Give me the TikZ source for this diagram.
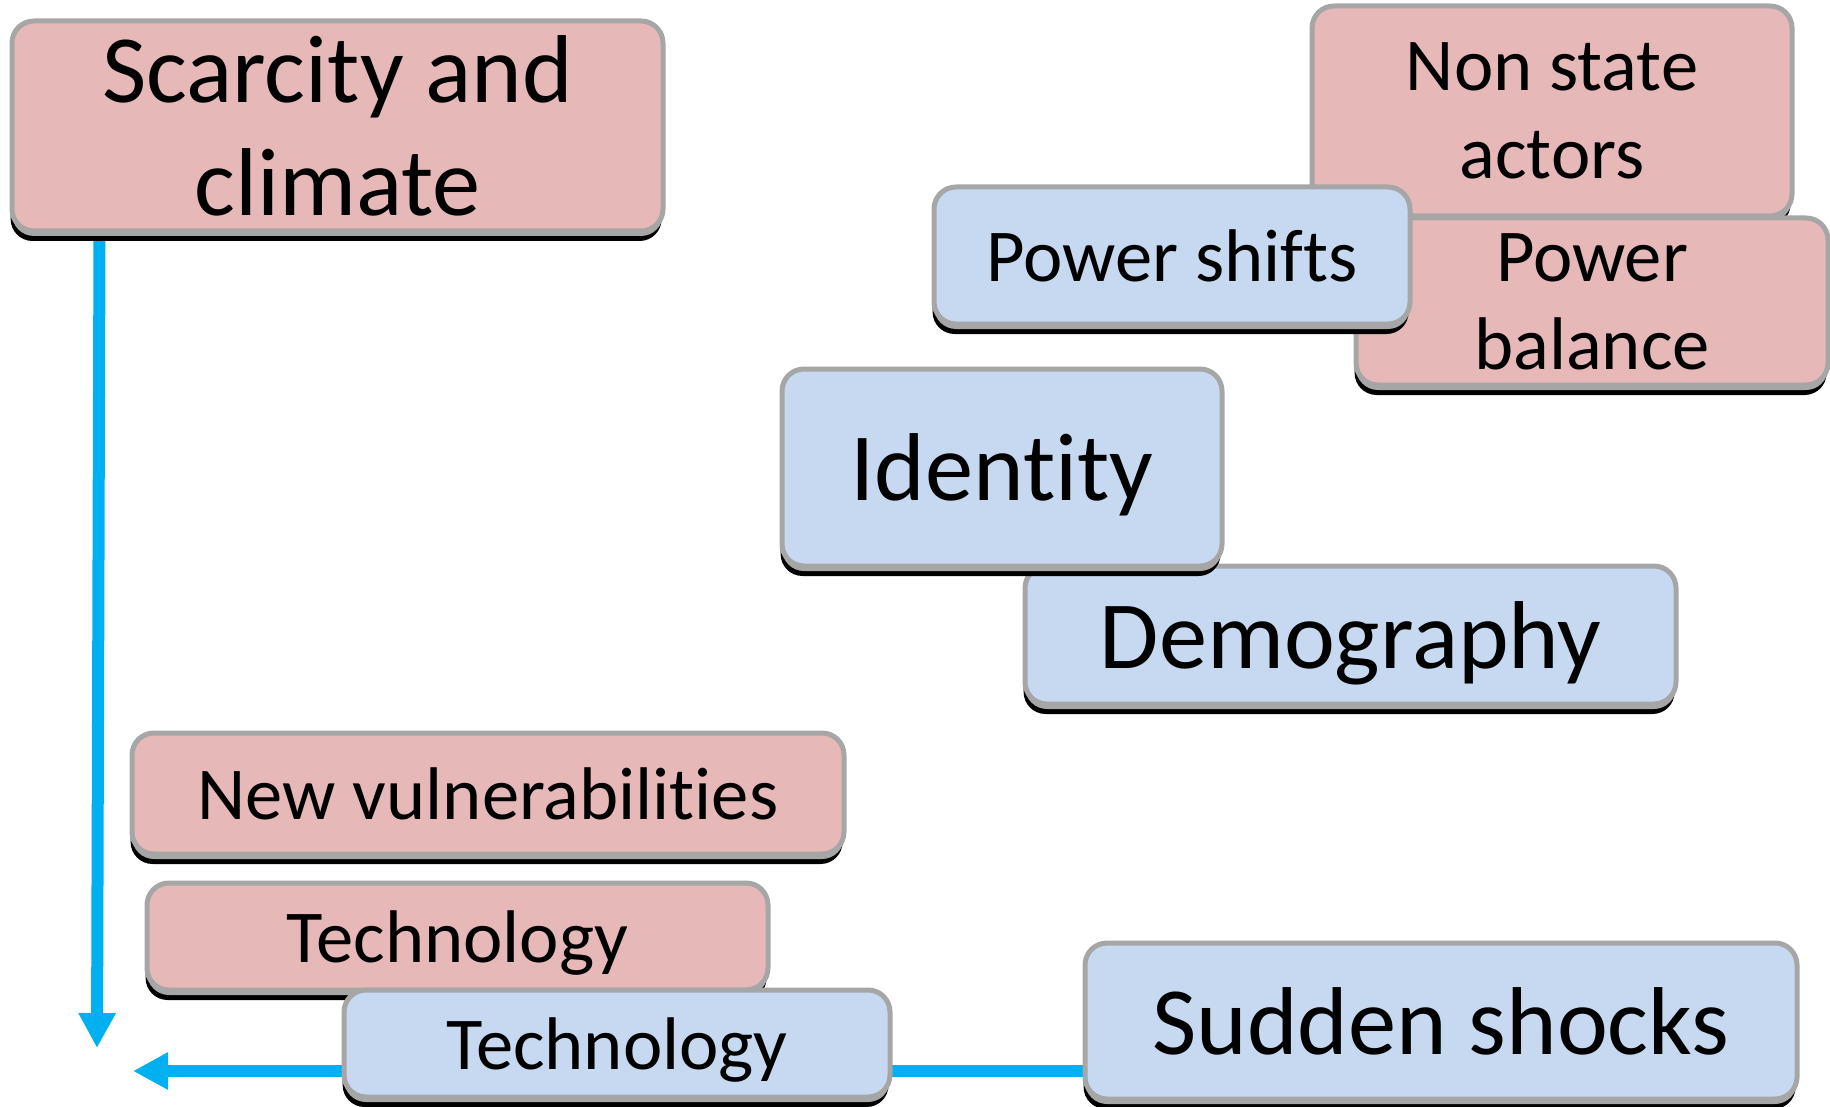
\documentclass[tikz,border=0pt]{standalone}
\usepackage{fontspec}
\setmainfont{Carlito}[Ligatures=NoCommon]
\usetikzlibrary{arrows.meta,shadows,backgrounds}
\definecolor{boxred}{HTML}{E6B9B8}
\definecolor{boxblue}{HTML}{C6D9F1}
\definecolor{boxedge}{HTML}{A6A6A6}
\definecolor{arrowblue}{HTML}{00B0F0}

\begin{document}
\begin{tikzpicture}[x=0.5pt,y=-0.5pt,
    box/.style={draw=boxedge, line width=2.5pt, rounded corners=11pt, align=center, inner sep=0pt,
        general shadow={fill=black, shadow xshift=-0.7pt, shadow yshift=-5pt},
        general shadow={fill=boxedge, shadow yshift=-2.5pt}},
    redbox/.style={box, fill=boxred},
    bluebox/.style={box, fill=boxblue},
    oneline/.style={text depth=0pt},
    small/.style={font=\fontsize{37.3}{44}\selectfont},
    big/.style={font=\fontsize{48.2}{56.5}\selectfont},
    flow/.style={draw=arrowblue, line width=6pt, -{Triangle[width=17.5pt,length=17.5pt]}}]
    \useasboundingbox (0,0) rectangle (1830,1107);

    \node[redbox, big, minimum width=325.5pt, minimum height=105pt] (scarcity) at (337.5,126) {Scarcity and\\climate};
    \node[redbox, small, minimum width=240pt, minimum height=105pt] (nonstate) at (1552,111) {Non state\\actors};
    \node[redbox, small, minimum width=236pt, minimum height=83.5pt] (balance) at (1592,301.5) {Power\\balance};
    \node[bluebox, small, oneline, minimum width=238pt, minimum height=68.5pt] (shifts) at (1172,255.5) {Power shifts};
    \node[bluebox, big, oneline, minimum width=325.5pt, minimum height=69pt] (demography) at (1350.5,635) {Demography};
    \node[bluebox, big, oneline, minimum width=220pt, minimum height=98.5pt] (identity) at (1002,467.5) {Identity};
    \node[redbox, small, oneline, minimum width=356pt, minimum height=60.5pt] (vulnerab) at (488,793.5) {New vulnerabilities};
    \node[redbox, small, oneline, minimum width=310.5pt, minimum height=53.5pt] (techred) at (457.5,936.5) {Technology};
    \node[bluebox, small, oneline, minimum width=273pt, minimum height=53.5pt] (techblue) at (617,1043.5) {Technology};
    \node[bluebox, big, oneline, minimum width=356pt, minimum height=78pt] (shocks) at (1441,1021) {Sudden shocks};

    \coordinate (downend) at (97,1048);
    \coordinate (leftend) at (133,1071);
    \begin{pgfonlayer}{background}
        \draw[flow] ([xshift=45pt]scarcity.south west) -- (downend);
        \draw[flow] (shocks.west |- leftend) -- (leftend);
    \end{pgfonlayer}
\end{tikzpicture}
\end{document}
